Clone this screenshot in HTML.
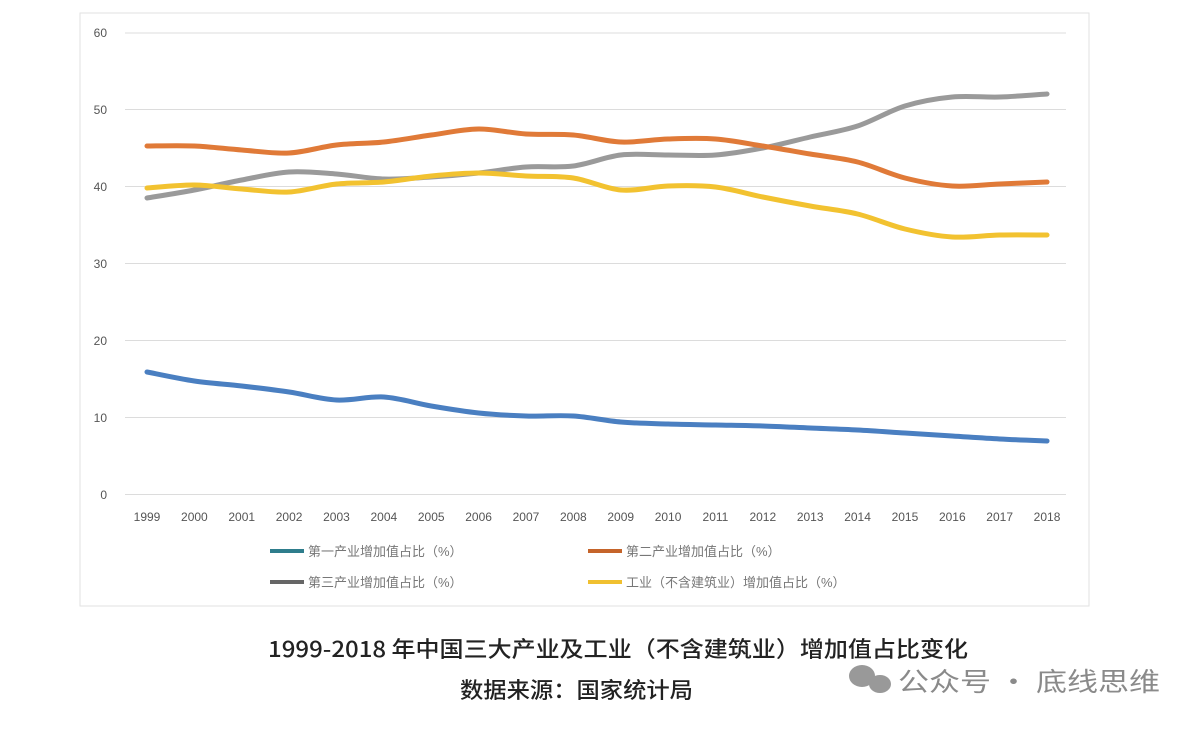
<!DOCTYPE html>
<html><head><meta charset="utf-8"><style>
body{margin:0;background:#fff;width:1200px;height:728px;overflow:hidden;font-family:"Liberation Sans","Noto Sans CJK SC",sans-serif}
</style></head><body>
<svg width="1200" height="728" xmlns="http://www.w3.org/2000/svg" font-family="Liberation Sans, Noto Sans CJK SC, sans-serif">
<rect x="80" y="13" width="1009" height="593" fill="#fff" stroke="#e2e2e2"/>
<g stroke="#dcdcdc" stroke-width="1">
<line x1="125" x2="1066" y1="33" y2="33"/><line x1="125" x2="1066" y1="109.5" y2="109.5"/>
<line x1="125" x2="1066" y1="186.5" y2="186.5"/><line x1="125" x2="1066" y1="263.5" y2="263.5"/>
<line x1="125" x2="1066" y1="340.5" y2="340.5"/><line x1="125" x2="1066" y1="417.5" y2="417.5"/>
<line x1="125" x2="1066" y1="494.5" y2="494.5"/></g>
<g font-size="12" fill="#555" text-anchor="end">
<text x="107" y="37">60</text><text x="107" y="114">50</text><text x="107" y="191">40</text><text x="107" y="268">30</text><text x="107" y="345">20</text><text x="107" y="422">10</text><text x="107" y="499">0</text></g>
<g id="xl" font-size="12" fill="#555" text-anchor="middle"></g>
<g id="lines" fill="none" stroke-width="5" stroke-linecap="round" stroke-linejoin="round"></g>
<g stroke-width="4">
<line x1="270" x2="304" y1="551" y2="551" stroke="#2e7d8c"/><line x1="270" x2="304" y1="582" y2="582" stroke="#666"/>
<line x1="588" x2="622" y1="551" y2="551" stroke="#c5642a"/><line x1="588" x2="622" y1="582" y2="582" stroke="#f0c030"/></g>
<g font-size="13" fill="#777">
<text x="308" y="556">第一产业增加值占比（%）</text><text x="308" y="587">第三产业增加值占比（%）</text>
<text x="626" y="556">第二产业增加值占比（%）</text><text x="626" y="587">工业（不含建筑业）增加值占比（%）</text></g>
<text x="268" y="657" font-size="22" fill="#222" font-weight="500" font-family="Noto Sans CJK SC, sans-serif" textLength="700" lengthAdjust="spacingAndGlyphs">1999-2018 年中国三大产业及工业（不含建筑业）增加值占比变化</text>
<text x="460" y="698" font-size="22" fill="#222" font-weight="500" font-family="Noto Sans CJK SC, sans-serif" textLength="233" lengthAdjust="spacingAndGlyphs">数据来源：国家统计局</text>
<g fill="#999"><ellipse cx="862" cy="676" rx="13" ry="11"/><ellipse cx="880" cy="684" rx="11" ry="9"/></g>
<text x="898" y="691" font-size="26" fill="#8a8a8a" font-family="Noto Sans CJK SC, sans-serif" textLength="262" lengthAdjust="spacingAndGlyphs">公众号 · 底线思维</text>
</svg>
<script>
var D={
"#4a7fc1":[372,381,386,392,400,397,406,413,416,416,422,424,425,426,428,430,433,436,439,441],
"#9a9a9a":[198,190,180,172,174,179,177,173,167,166,155,155,155,148,137,126,106,97,97,94],
"#e07a38":[146,146,150,153,145,142,135,129,134,135,142,139,139,146,154,162,178,186,184,182],
"#f2c230":[188,185,189,192,184,182,176,173,176,178,190,186,187,197,206,214,229,237,235,235]};
var ns="http://www.w3.org/2000/svg",g=document.getElementById("lines"),xl=document.getElementById("xl");
function X(i){return 147+i*47.37}
for(var i=0;i<20;i++){var t=document.createElementNS(ns,"text");t.setAttribute("x",X(i));t.setAttribute("y",521);t.textContent=1999+i;xl.appendChild(t);}
for(var c in D){var y=D[c],d="M"+X(0)+","+y[0];
for(var i=0;i<19;i++){var p0=i?i-1:i,p3=i<18?i+2:i+1;
var c1x=X(i)+(X(i+1)-X(p0))/6,c1y=y[i]+(y[i+1]-y[p0])/6,c2x=X(i+1)-(X(p3)-X(i))/6,c2y=y[i+1]-(y[p3]-y[i])/6;
d+=" C"+c1x+","+c1y+" "+c2x+","+c2y+" "+X(i+1)+","+y[i+1];}
var p=document.createElementNS(ns,"path");p.setAttribute("d",d);p.setAttribute("stroke",c);g.appendChild(p);}
</script>
</body></html>
